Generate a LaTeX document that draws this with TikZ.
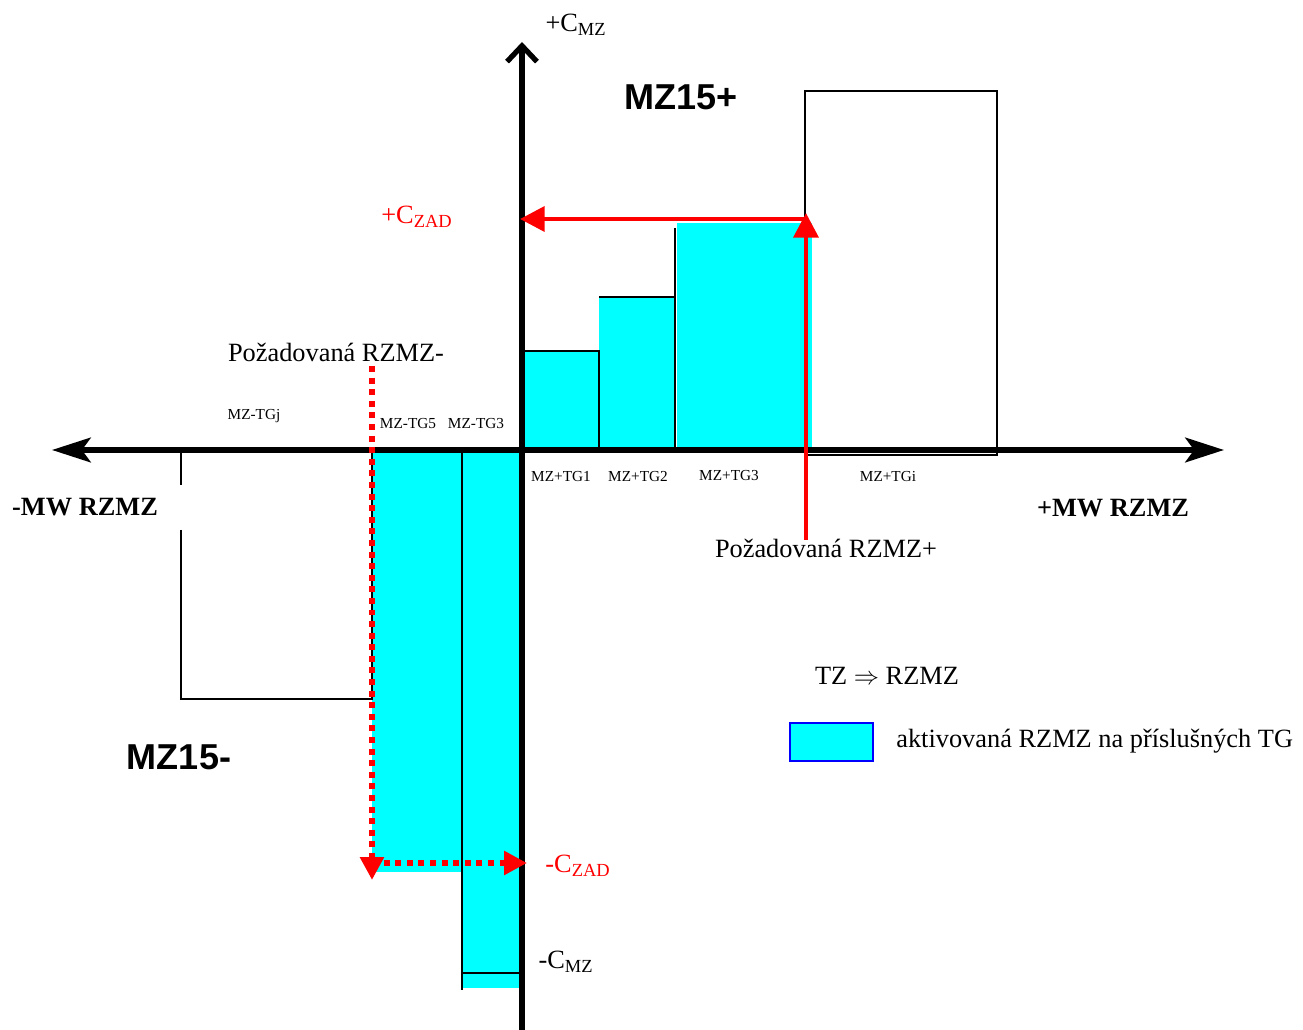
\documentclass[tikz,border=0pt]{standalone}
\usepackage{fontspec}
\setmainfont{Liberation Serif}
\newfontfamily\arialfont{Liberation Sans}
\usetikzlibrary{arrows.meta}

\definecolor{aktiv}{RGB}{0,255,255}
\tikzset{
  axis/.style={line width=3.2pt},
  barfill/.style={fill=aktiv},
  baredge/.style={line width=1.1pt},
  reqline/.style={red, line width=2.6pt},
  reqdots/.style={red, line width=3.4pt, dash pattern=on 3.4pt off 3.2pt},
  lbl/.style={font=\fontsize{15}{18}\selectfont, inner sep=0pt},
  tglbl/.style={font=\fontsize{8.7}{10}\selectfont, inner sep=0pt},
  mzlbl/.style={font=\arialfont\bfseries\fontsize{20.5}{24}\selectfont, inner sep=0pt},
}

\begin{document}
\begin{tikzpicture}[x=0.02cm, y=-0.02cm]
\useasboundingbox (0,0) rectangle (1303,1030);

% activated parts of the bars
\fill[barfill] (525,351) rectangle (599,450);
\fill[barfill] (599,297) rectangle (675,450);
\fill[barfill] (677,223) rectangle (812,450);
\fill[barfill] (372,450) rectangle (462,872);
\fill[barfill] (462,450) rectangle (520,988);

% bar outlines
\draw[baredge] (522,351) -- (599,351) -- (599,450);
\draw[baredge] (599,297) -- (675,297);
\draw[baredge] (675,228) -- (675,452);
\draw[baredge] (805,455) rectangle (997,91);
\draw[baredge] (181,450) -- (181,485);
\draw[baredge] (181,530) -- (181,699) -- (372,699) -- (372,450);
\draw[baredge] (462,450) -- (462,990);
\draw[baredge] (462,973) -- (520,973);

% axes
\draw[axis, -{Stealth[length=22pt, width=14pt, inset=5pt]}] (522,450) -- (1224,450);
\draw[axis, -{Stealth[length=22pt, width=14pt, inset=5pt]}] (522,450) -- (52,450);
\draw[axis, -{Straight Barb[length=9pt, width=17pt, line width=3pt]}] (522,1030) -- (522,42);

% requested reserve
\coordinate (reqP) at (806,540);
\coordinate (reqPtop) at (806,213);
\coordinate (czadP) at (806,219);
\coordinate (czadPaxis) at (520,219);
\draw[reqline, -{Triangle[length=14pt, width=14pt]}] (reqP) -- (reqPtop);
\draw[reqline, -{Triangle[length=14pt, width=14pt]}] (czadP) -- (czadPaxis);
\coordinate (reqM) at (372,366);
\coordinate (reqMbot) at (372,880);
\coordinate (czadM) at (372,863);
\coordinate (czadMaxis) at (527,863);
\draw[reqdots, -{Triangle[length=13pt, width=13pt]}] (reqM) -- (reqMbot);
\draw[reqdots, -{Triangle[length=13pt, width=13pt]}] (czadM) -- (czadMaxis);

% labels
\node[lbl] (cmzP) at (576,25) {+C\textsubscript{MZ}};
\node[lbl] (cmzM) at (566,962) {-C\textsubscript{MZ}};
\node[lbl, red] (czadPlbl) at (417,217) {+C\textsubscript{ZAD}};
\node[lbl, red] (czadMlbl) at (578,866) {-C\textsubscript{ZAD}};
\node[mzlbl] (mzP) at (681,97) {MZ15+};
\node[mzlbl] (mzM) at (179,757) {MZ15-};
\node[lbl, font=\bfseries\fontsize{15}{18}\selectfont] (mwM) at (85,507) {-MW RZMZ};
\node[lbl, font=\bfseries\fontsize{15}{18}\selectfont] (mwP) at (1113,508) {+MW RZMZ};
\node[lbl] (reqMlbl) at (336,352) {Požadovaná RZMZ-};
\node[lbl] (reqPlbl) at (826,548) {Požadovaná RZMZ+};
\node[tglbl] (tgj) at (254,416) {MZ-TGj};
\node[tglbl] (tg5) at (408,424) {MZ-TG5};
\node[tglbl] (tg3m) at (476,424) {MZ-TG3};
\node[tglbl] (tg1) at (561,477) {MZ+TG1};
\node[tglbl] (tg2) at (638,477) {MZ+TG2};
\node[tglbl] (tg3p) at (729,476) {MZ+TG3};
\node[tglbl] (tgi) at (888,477) {MZ+TGi};

% legend
\node[lbl] (tzrzmz) at (887,676) {TZ $\Rightarrow$ RZMZ};
\draw[fill=aktiv, draw=blue, line width=1.1pt] (790,723) rectangle (873,761);
\node[lbl, anchor=west] (legtxt) at (896,741) {aktivovaná RZMZ na příslušných TG};
\end{tikzpicture}
\end{document}
